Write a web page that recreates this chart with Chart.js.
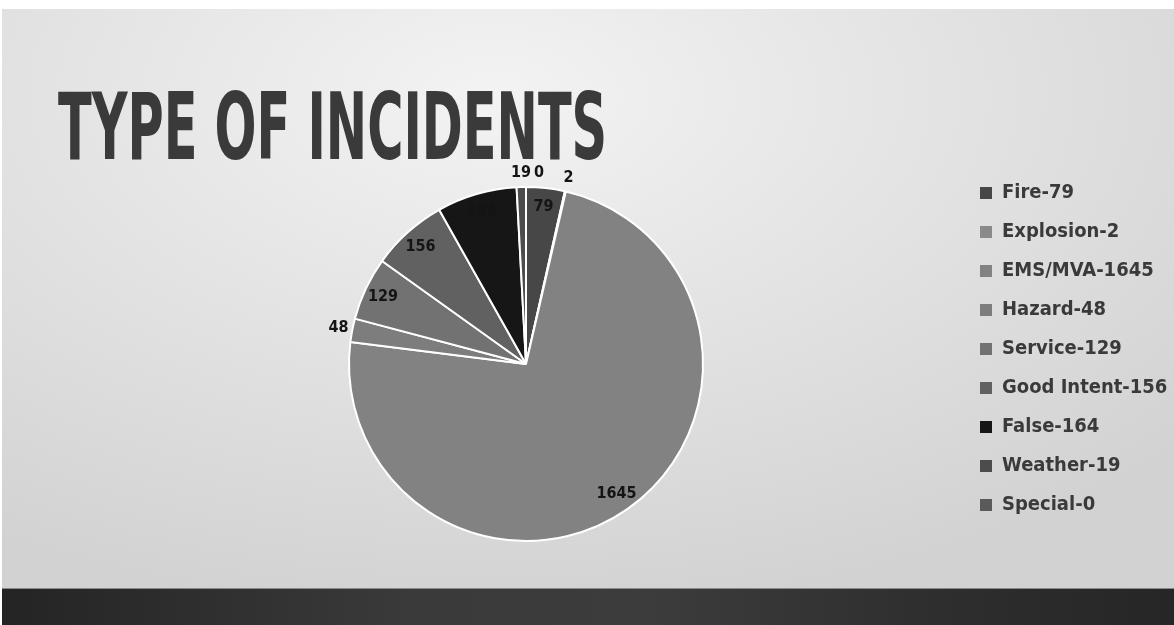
<!DOCTYPE html>
<html>
<head>
<meta charset="utf-8">
<script src="https://cdn.jsdelivr.net/npm/chart.js@4.4.1/dist/chart.umd.min.js"></script>
<style>
  html, body { margin: 0; padding: 0; background: #fff; width: 1174px; height: 625px; overflow: hidden; }
  #slide {
    position: absolute; left: 2px; top: 9px; width: 1172px; height: 579px;
    background: radial-gradient(ellipse 80% 90% at 42% 15%, #f3f3f3 0%, #e4e4e4 45%, #d2d2d2 100%);
  }
  #band {
    position: absolute; left: 2px; top: 588px; width: 1172px; height: 37px;
    background: linear-gradient(90deg, #242424 0%, #3a3a3a 35%, #3c3c3c 55%, #2e2e2e 80%, #262626 100%);
    border-top: 1px solid #8a8a8a;
  }
  #title {
    position: absolute; left: 58px; top: 82px;
    font-family: "DejaVu Sans Condensed", "Liberation Sans Narrow", sans-serif;
    font-weight: bold; font-size: 92px; line-height: 1; color: #3a3a3a;
    white-space: nowrap; transform-origin: left top;
  }
  #chart { position: absolute; left: 0; top: 0; }
</style>
</head>
<body>
<div id="slide"></div>
<div id="band"></div>
<div id="title">TYPE OF INCIDENTS</div>
<canvas id="chart" width="1174" height="625"></canvas>
<script>
  // data
  var categories = ['Fire', 'Explosion', 'EMS/MVA', 'Hazard', 'Service', 'Good Intent', 'False', 'Weather', 'Special'];
  var incidents = [79, 2, 1645, 48, 129, 156, 164, 19, 0];
  var sliceColors = ['#474747', '#8a8a8a', '#828282', '#7d7d7d', '#727272', '#616161', '#161616', '#4c4c4c', '#5a5a5a'];

  var FONT = '"DejaVu Sans Condensed", "Liberation Sans Narrow", sans-serif';

  // squeeze the title to the slide's width (Impact-like look)
  var title = document.getElementById('title');
  title.style.transform = 'scaleX(' + (549 / title.offsetWidth) + ')';

  var legendLabels = categories.map(function (c, i) { return c + '-' + incidents[i]; });

  // value labels: inside end for big slices, outside for thin ones
  var sliceLabels = {
    id: 'sliceLabels',
    afterDatasetsDraw: function (chart) {
      var ctx = chart.ctx;
      var meta = chart.getDatasetMeta(0);
      var data = chart.data.datasets[0].data;
      ctx.save();
      ctx.font = 'bold 16px ' + FONT;
      ctx.fillStyle = '#141414';
      ctx.textAlign = 'center';
      ctx.textBaseline = 'middle';
      var prevBox = null;
      meta.data.forEach(function (arc, i) {
        var p = arc.getProps(['x', 'y', 'startAngle', 'endAngle', 'outerRadius'], true);
        var span = p.endAngle - p.startAngle;
        var mid = (p.startAngle + p.endAngle) / 2;
        var text = String(data[i]);
        var w = ctx.measureText(text).width;
        var inside = span > 0.17;
        var r = inside ? p.outerRadius - 19 : p.outerRadius + 14;
        var lx = p.x + Math.cos(mid) * r;
        var ly = p.y + Math.sin(mid) * r;
        if (!inside) {
          if (prevBox && Math.abs(ly - prevBox.y) < 16 && lx - w / 2 < prevBox.right + 3) {
            lx = prevBox.right + 3 + w / 2;
          }
          prevBox = { right: lx + w / 2, y: ly };
        }
        ctx.fillText(text, lx, ly);
      });
      ctx.restore();
    }
  };

  var pie = new Chart(document.getElementById('chart'), {
    type: 'pie',
    data: {
      labels: legendLabels,
      datasets: [{
        data: incidents,
        backgroundColor: sliceColors,
        borderColor: '#ffffff',
        borderWidth: 2,
        hoverOffset: 0
      }]
    },
    options: {
      responsive: false,
      animation: false,
      radius: 177,
      layout: { padding: { left: 89, right: 0, top: 164, bottom: 61 } },
      plugins: {
        tooltip: { enabled: false },
        legend: {
          position: 'right',
          align: 'start',
          labels: {
            boxWidth: 12,
            boxHeight: 12,
            padding: 19,
            color: '#3a3a3a',
            font: { family: FONT, size: 20, weight: 'bold' },
            generateLabels: function (chart) {
              var items = Chart.overrides.pie.plugins.legend.labels.generateLabels(chart);
              items.forEach(function (it) { it.lineWidth = 0; it.strokeStyle = 'rgba(0,0,0,0)'; });
              return items;
            }
          }
        }
      }
    },
    plugins: [sliceLabels]
  });

  // move the legend so its boxes start at x=980 and the pie centre stays at x=526
  var wantLeft = 980 - 19;
  pie.options.layout.padding.right = 1174 - wantLeft - pie.legend.width;
  pie.options.layout.padding.left = 2 * 526 - wantLeft;
  pie.update();
</script>
</body>
</html>
